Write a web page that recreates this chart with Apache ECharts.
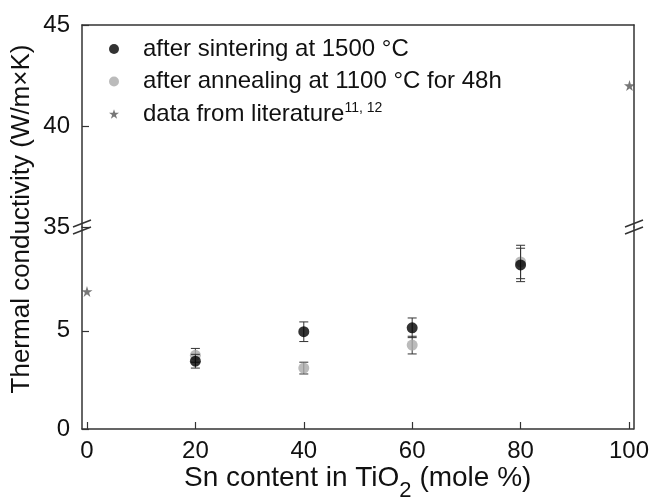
<!DOCTYPE html>
<html><head><meta charset="utf-8">
<script src="https://cdn.jsdelivr.net/npm/echarts@6/dist/echarts.min.js"></script>
<style>html,body{margin:0;padding:0;background:#fff}#c{width:652px;height:503px}</style>
</head><body><div id="c"></div>
<script>
// ---- data ----
const snContent = [20, 40, 60, 80];
const sinterValues = [3.45, 4.95, 5.15, 8.35];
const sinterErr = [0.35, 0.5, 0.5, 0.85];
const annealValues = [3.75, 3.1, 4.27, 8.5];
const annealErr = [0.35, 0.3, 0.45, 0.85];
const litLowX = [0];
const litLowValues = [7.0];
const litHighX = [100];
const litHighValues = [42.0];
const xTicks = [0, 20, 40, 60, 80, 100];
const yTicksLow = [0, 5];
const yTicksHigh = [35, 40, 45];
const seriesNames = ['after sintering at 1500 °C', 'after annealing at 1100 °C for 48h', 'data from literature'];

// ---- layout / style ----
const FONT = '"Liberation Sans", Arial, sans-serif';
const AX = '#333';
const L = 82, R = 634, TOP = 25, BRK = 227, BOT = 433.3;
const STAR = 'path://M50,0 L61.2,34.5 L97.6,34.5 L68.2,55.9 L79.4,90.5 L50,69.1 L20.6,90.5 L31.8,55.9 L2.4,34.5 L38.8,34.5 Z';

const chart = echarts.init(document.getElementById('c'), null, {renderer: 'canvas'});

function errRender(params, api) {
  const x = api.value(0), y = api.value(1), e = api.value(2);
  const t = api.coord([x, y + e]), b = api.coord([x, y - e]);
  const hw = 4.5, st = {stroke: '#333', lineWidth: 1};
  return {type: 'group', children: [
    {type: 'line', shape: {x1: t[0], y1: t[1], x2: b[0], y2: b[1]}, style: st},
    {type: 'line', shape: {x1: t[0] - hw, y1: t[1], x2: t[0] + hw, y2: t[1]}, style: st},
    {type: 'line', shape: {x1: b[0] - hw, y1: b[1], x2: b[0] + hw, y2: b[1]}, style: st}
  ]};
}

function breakMark(x, y) {
  return {type: 'group', x: x, y: y, z: 100, children: [
    {type: 'rect', shape: {x: -3, y: -3.5, width: 6, height: 7}, style: {fill: '#fff'}},
    {type: 'line', shape: {x1: -9, y1: 0, x2: 9, y2: -7}, style: {stroke: AX, lineWidth: 1.5}},
    {type: 'line', shape: {x1: -9, y1: 7, x2: 9, y2: 0}, style: {stroke: AX, lineWidth: 1.5}}
  ]};
}

const axisLineStyle = {show: true, onZero: false, lineStyle: {color: AX, width: 1.5}};
const labelStyle = {fontSize: 24, fontFamily: FONT, color: '#111'};
const tickStyle = {color: AX, width: 1.2};

const option = {
  animation: false,
  backgroundColor: '#fff',
  grid: [
    {left: L, right: 652 - R, top: TOP, height: BRK - TOP},
    {left: L, right: 652 - R, top: BRK, height: BOT - BRK}
  ],
  xAxis: [
    {gridIndex: 0, type: 'value', min: -0.92, max: 100.83, position: 'top',
     axisLine: axisLineStyle, axisTick: {show: false}, axisLabel: {show: false}, splitLine: {show: false}},
    {gridIndex: 1, type: 'value', min: -0.92, max: 100.83, position: 'bottom',
     axisLine: axisLineStyle,
     axisTick: {show: true, inside: true, length: 7, customValues: xTicks, lineStyle: tickStyle},
     axisLabel: Object.assign({customValues: xTicks, margin: 10}, labelStyle),
     splitLine: {show: false},
     name: '{m|Sn content in TiO}{s|2}{m| (mole %)}',
     nameLocation: 'middle', nameGap: 26,
     nameTextStyle: {fontFamily: FONT, color: '#111', fontSize: 28,
       rich: {m: {fontSize: 28, fontFamily: FONT, color: '#111'},
              s: {fontSize: 22, fontFamily: FONT, color: '#111', verticalAlign: 'bottom', padding: [25, 0, 0, 0]}}}}
  ],
  yAxis: [
    {gridIndex: 0, type: 'value', min: 35, max: 45, interval: 5, position: 'left',
     axisLine: axisLineStyle,
     axisTick: {show: true, inside: true, length: 7, lineStyle: tickStyle},
     axisLabel: Object.assign({margin: 12}, labelStyle), splitLine: {show: false}},
    {gridIndex: 0, type: 'value', min: 35, max: 45, position: 'right',
     axisLine: axisLineStyle, axisTick: {show: false}, axisLabel: {show: false}, splitLine: {show: false}},
    {gridIndex: 1, type: 'value', min: 0, max: 10.28, position: 'left',
     axisLine: axisLineStyle,
     axisTick: {show: true, inside: true, length: 7, customValues: yTicksLow, lineStyle: tickStyle},
     axisLabel: Object.assign({margin: 12, customValues: yTicksLow}, labelStyle), splitLine: {show: false}},
    {gridIndex: 1, type: 'value', min: 0, max: 10.28, position: 'right',
     axisLine: axisLineStyle, axisTick: {show: false}, axisLabel: {show: false}, splitLine: {show: false}}
  ],
  legend: {
    orient: 'vertical', left: 104, top: 31, itemWidth: 10, itemHeight: 10, itemGap: 6.5,
    data: [
      {name: seriesNames[0], icon: 'circle'},
      {name: seriesNames[1], icon: 'circle'},
      {name: seriesNames[2], icon: STAR}
    ],
    formatter: function (n) { return n === seriesNames[2] ? n + '{sup|11, 12}' : n; },
    textStyle: {fontSize: 24, fontFamily: FONT, color: '#111', lineHeight: 26, padding: [0, 0, 0, 19],
      rich: {sup: {fontSize: 14, fontFamily: FONT, color: '#111', verticalAlign: 'top', lineHeight: 14, padding: [0, 0, 15, 0]}}}
  },
  series: [
    {type: 'custom', xAxisIndex: 1, yAxisIndex: 2, renderItem: errRender, silent: true, z: 2,
     encode: {x: 0, y: 1}, data: snContent.map((x, i) => [x, annealValues[i], annealErr[i]])},
    {type: 'scatter', name: seriesNames[1], xAxisIndex: 1, yAxisIndex: 2, symbol: 'circle', symbolSize: 11,
     itemStyle: {color: '#aaaaaa'}, data: snContent.map((x, i) => [x, annealValues[i]]), z: 3},
    {type: 'custom', xAxisIndex: 1, yAxisIndex: 2, renderItem: errRender, silent: true, z: 4,
     encode: {x: 0, y: 1}, data: snContent.map((x, i) => [x, sinterValues[i], sinterErr[i]])},
    {type: 'scatter', name: seriesNames[0], xAxisIndex: 1, yAxisIndex: 2, symbol: 'circle', symbolSize: 11,
     itemStyle: {color: '#000'}, data: snContent.map((x, i) => [x, sinterValues[i]]), z: 5},
    {type: 'scatter', name: seriesNames[2], xAxisIndex: 1, yAxisIndex: 2, symbol: STAR, symbolSize: 11,
     itemStyle: {color: '#555'}, data: litLowX.map((x, i) => [x, litLowValues[i]]), z: 4},
    {type: 'scatter', name: seriesNames[2], xAxisIndex: 0, yAxisIndex: 0, symbol: STAR, symbolSize: 11,
     itemStyle: {color: '#555'}, data: litHighX.map((x, i) => [x, litHighValues[i]]), z: 4}
  ],
  graphic: [
    {type: 'text', x: 22, y: 219, rotation: Math.PI / 2, z: 100,
     style: {text: 'Thermal conductivity (W/m×K)', fontSize: 26, fontFamily: FONT, fill: '#111',
             align: 'center', verticalAlign: 'middle'}},
    breakMark(L, BRK),
    breakMark(R, BRK)
  ]
};
chart.setOption(option);
</script></body></html>
